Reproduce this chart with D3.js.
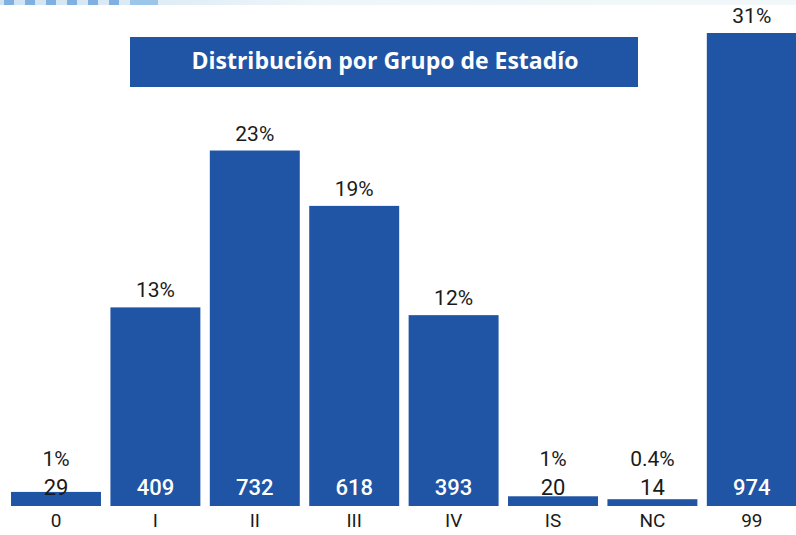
<!DOCTYPE html>
<html>
<head>
<meta charset="utf-8">
<script src="https://cdn.jsdelivr.net/npm/d3@7"></script>
<style>
  body { margin: 0; background: #fff; }
  svg { display: block; }
</style>
</head>
<body>
<div id="chart"></div>
<script>
// data
var stages = ["0", "I", "II", "III", "IV", "IS", "NC", "99"];
var counts = [29, 409, 732, 618, 393, 20, 14, 974];
var pcts = ["1%", "13%", "23%", "19%", "12%", "1%", "0.4%", "31%"];
var title = "Distribución por Grupo de Estadío";

var W = 796, H = 535,
    baseY = 506,
    topY = 33,
    bar_color = "#2055a5";

var svg = d3.select("#chart").append("svg")
    .attr("width", W)
    .attr("height", H);

// header strip (decorative)
var defs = svg.append("defs");
var grad = defs.append("linearGradient").attr("id", "strip");
grad.append("stop").attr("offset", "0").attr("stop-color", "#cfe3f3");
grad.append("stop").attr("offset", "0.4").attr("stop-color", "#eef6f9");
grad.append("stop").attr("offset", "1").attr("stop-color", "#f2f8fa");
svg.append("rect").attr("x", 0).attr("y", 0).attr("width", W).attr("height", 5)
    .attr("fill", "url(#strip)");
d3.range(7).forEach(function(i) {
    svg.append("rect")
        .attr("x", 4 + i * 21).attr("y", 0)
        .attr("width", 10).attr("height", 5)
        .attr("fill", "#7fb0df");
});
svg.append("rect").attr("x", 130).attr("y", 0).attr("width", 28).attr("height", 5)
    .attr("fill", "#9cc5ea");

var x = d3.scaleBand()
    .domain(stages)
    .range([6.3, 801.5])
    .paddingInner(0.095)
    .paddingOuter(0.0475);

var y = d3.scaleLinear()
    .domain([0, d3.max(counts)])
    .range([baseY, topY]);

var data = stages.map(function(s, i) {
    return { stage: s, n: counts[i], pct: pcts[i] };
});

// bars
svg.selectAll(".bar")
    .data(data)
  .enter().append("rect")
    .attr("class", "bar")
    .attr("x", function(d) { return x(d.stage); })
    .attr("y", function(d) { return y(d.n); })
    .attr("width", x.bandwidth())
    .attr("height", function(d) { return baseY - y(d.n); })
    .attr("fill", bar_color);

var small = function(d) { return baseY - y(d.n) < 30; };

// count labels
svg.selectAll(".cnt")
    .data(data)
  .enter().append("text")
    .attr("x", function(d) { return x(d.stage) + x.bandwidth() / 2; })
    .attr("y", baseY - 11)
    .attr("text-anchor", "middle")
    .style("font-family", "Roboto, sans-serif")
    .style("font-size", "22px")
    .style("font-weight", function(d) { return small(d) ? 400 : 500; })
    .style("fill", function(d) { return small(d) ? "#1a1a1a" : "#ffffff"; })
    .text(function(d) { return d.n; });

// percent labels
svg.selectAll(".pct")
    .data(data)
  .enter().append("text")
    .attr("x", function(d) { return x(d.stage) + x.bandwidth() / 2; })
    .attr("y", function(d) { return small(d) ? baseY - 40 : y(d.n) - 10; })
    .attr("text-anchor", "middle")
    .style("font-family", "Roboto, sans-serif")
    .style("font-size", "21px")
    .style("fill", "#1a1a1a")
    .text(function(d) { return d.pct; });

// category axis labels
var xAxis = d3.axisBottom(x).tickSize(0).tickPadding(0);
var ax = svg.append("g")
    .attr("transform", "translate(0," + (baseY + 21) + ")")
    .call(xAxis);
ax.select(".domain").remove();
ax.selectAll("text")
    .attr("dy", "0")
    .style("font-family", "Roboto, sans-serif")
    .style("font-size", "19px")
    .style("fill", "#1a1a1a");

// title box
svg.append("rect")
    .attr("x", 130).attr("y", 37)
    .attr("width", 508).attr("height", 50)
    .attr("fill", bar_color);
svg.append("text")
    .attr("x", 385).attr("y", 69)
    .attr("text-anchor", "middle")
    .style("font-family", "'Open Sans', sans-serif")
    .style("font-weight", 700)
    .style("font-size", "23px")
    .style("fill", "#ffffff")
    .text(title);
</script>
</body>
</html>
